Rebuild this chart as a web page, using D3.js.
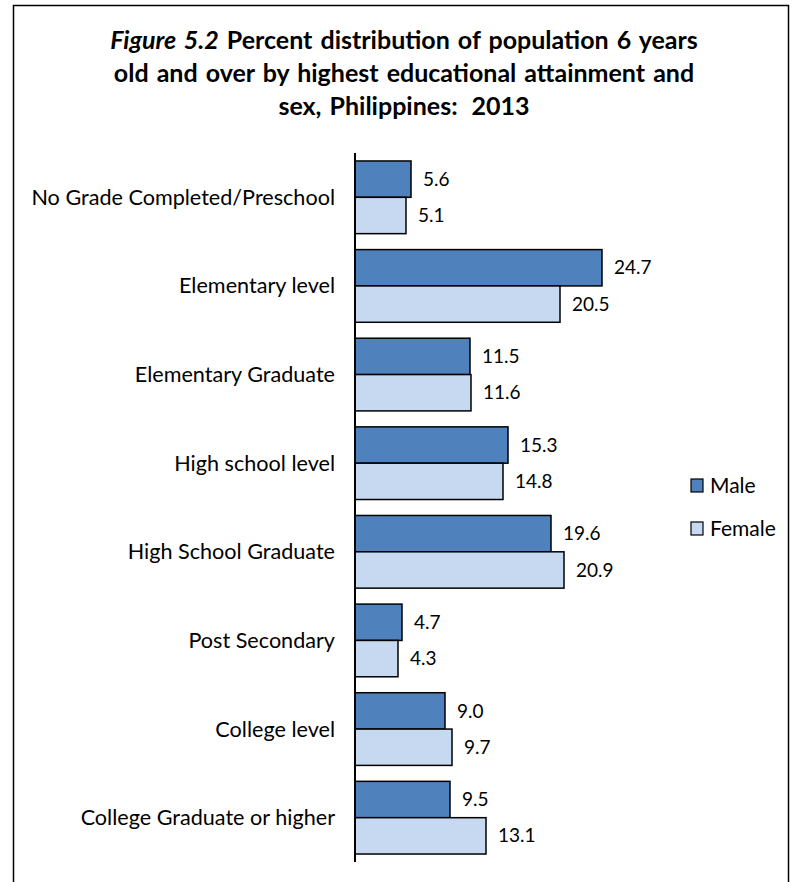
<!DOCTYPE html>
<html>
<head>
<meta charset="utf-8">
<script src="https://cdn.jsdelivr.net/npm/d3@7"></script>
<style>
  html, body { margin: 0; padding: 0; background: #fff; }
  svg { display: block; font-family: Lato, "Open Sans", sans-serif; }
</style>
</head>
<body>
<svg id="chart" width="798" height="882"></svg>
<script>
// Figure 5.2 — education attainment by sex, Philippines 2013
const categories = [
  'No Grade Completed/Preschool', 'Elementary level', 'Elementary Graduate',
  'High school level', 'High School Graduate', 'Post Secondary',
  'College level', 'College Graduate or higher'
];
const series = ['Male', 'Female'];
const maleValues   = [5.6, 24.7, 11.5, 15.3, 19.6, 4.7, 9.0, 9.5];
const femaleValues = [5.1, 20.5, 11.6, 14.8, 20.9, 4.3, 9.7, 13.1];
const titleLines = [
  ['Figure 5.2', ' Percent distribution of population 6 years'],
  ['', 'old and over by highest educational attainment and'],
  ['', 'sex, Philippines:', '2013']
];

const colors = { Male: '#4f81bd', Female: '#c6d9f1' };
const svg = d3.select('#chart');

// outer frame (bottom edge runs off the picture)
svg.append('rect').attr('x', 13.5).attr('y', 5.5).attr('width', 775).attr('height', 900)
  .attr('fill', 'none').attr('stroke', '#000').attr('stroke-width', 1.5);

// title
const title = svg.append('text').attr('text-anchor', 'middle').attr('font-weight', 700)
  .attr('font-size', 25).attr('word-spacing', 2).attr('fill', '#000');
titleLines.forEach((ln, i) => {
  const t = title.append('tspan').attr('x', 404).attr('y', 49 + i * 33);
  if (ln[0]) t.append('tspan').attr('font-style', 'italic').text(ln[0]);
  t.append('tspan').text(ln[1]);
  if (ln[2]) t.append('tspan').attr('dx', 14).text(ln[2]);
});

const x = d3.scaleLinear().domain([0, 30]).range([355, 655]);
const y = d3.scaleBand().domain(categories).range([153, 862]).paddingInner(0.18).paddingOuter(0.09);
const ys = d3.scaleBand().domain(series).range([0, y.bandwidth()]);

const rows = categories.map((c, i) => ({ c, Male: maleValues[i], Female: femaleValues[i] }));

const groups = svg.selectAll('g.cat').data(rows).enter().append('g')
  .attr('class', 'cat').attr('transform', d => `translate(0,${y(d.c)})`);

groups.selectAll('rect').data(d => series.map(s => ({ s, v: d[s] }))).enter().append('rect')
  .attr('x', x(0)).attr('y', d => ys(d.s))
  .attr('width', d => x(d.v) - x(0)).attr('height', ys.bandwidth())
  .attr('fill', d => colors[d.s]).attr('stroke', '#000').attr('stroke-width', 1.5);

groups.selectAll('text.val').data(d => series.map(s => ({ s, v: d[s] }))).enter().append('text')
  .attr('class', 'val').attr('x', d => x(d.v) + 12).attr('y', d => ys(d.s) + ys.bandwidth() / 2)
  .attr('dy', '0.35em').attr('font-size', 19).attr('fill', '#000').text(d => d.v.toFixed(1));

// category labels
svg.selectAll('text.cat').data(categories).enter().append('text')
  .attr('class', 'cat').attr('x', 335).attr('y', d => y(d) + y.bandwidth() / 2)
  .attr('dy', '0.35em').attr('text-anchor', 'end').attr('font-size', 21.6).attr('fill', '#000')
  .text(d => d);

// vertical axis line
svg.append('line').attr('x1', x(0)).attr('x2', x(0)).attr('y1', 153).attr('y2', 862)
  .attr('stroke', '#000').attr('stroke-width', 2);

// legend
const leg = svg.selectAll('g.leg').data(series).enter().append('g')
  .attr('class', 'leg').attr('transform', (d, i) => `translate(691,${479 + i * 43})`);
leg.append('rect').attr('width', 12).attr('height', 13)
  .attr('fill', d => colors[d]).attr('stroke', '#000').attr('stroke-width', 1.2);
leg.append('text').attr('x', 19).attr('y', 7).attr('dy', '0.35em')
  .attr('font-size', 21).attr('fill', '#000').text(d => d);
</script>
</body>
</html>
